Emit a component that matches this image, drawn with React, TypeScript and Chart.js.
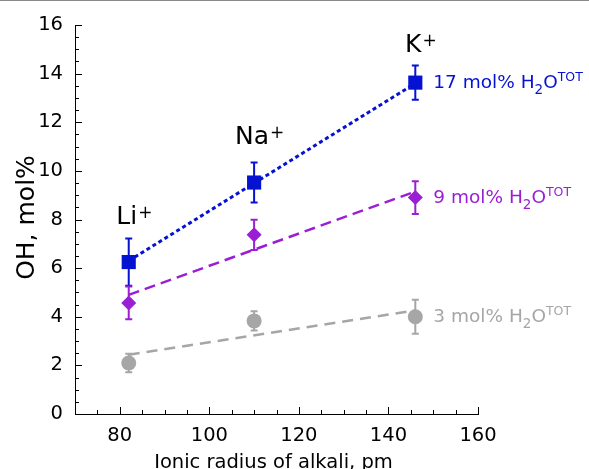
import React, { useEffect, useRef } from "react";
import { Chart, registerables } from "chart.js";

Chart.register(...registerables);

// ---- data ----
const radii = [82, 110, 146];
const ionNames = ["Li", "Na", "K"];
const ionLabelY = [7.82, 11.09, 14.89];

const oh17 = [6.25, 9.52, 13.63];
const err17 = [0.97, 0.82, 0.7];
const oh9 = [4.57, 7.37, 8.9];
const err9 = [0.67, 0.62, 0.67];
const oh3 = [2.1, 3.83, 4.0];
const err3 = [0.38, 0.4, 0.7];

const fitX = [82, 146];
const fit17 = [6.3, 13.6];
const fit9 = [4.9, 9.15];
const fit3 = [2.44, 4.26];

const seriesAmounts = ["17", "9", "3"];

const xTicks = [80, 100, 120, 140, 160];
const yTicks = [0, 2, 4, 6, 8, 10, 12, 14, 16];
const xMinorStep = 5;
const yMinorStep = 0.5;

const BLUE = "#0512d2";
const PURPLE = "#9a1fd4";
const GRAY = "#a6a6a6";
const FONT = "'DejaVu Sans', 'Liberation Sans', sans-serif";

const pts = (xs: number[], ys: number[]) => xs.map((x, i) => ({ x, y: ys[i] }));

const errorBarPlugin = {
  id: "errorBars",
  beforeDatasetsDraw(chart: any) {
    const ctx = chart.ctx;
    const ys = chart.scales.y;
    chart.data.datasets.forEach((ds: any, i: number) => {
      if (!ds.errors) return;
      const meta = chart.getDatasetMeta(i);
      ctx.save();
      ctx.strokeStyle = ds.backgroundColor;
      ctx.lineWidth = 2;
      meta.data.forEach((el: any, j: number) => {
        const v = ds.data[j].y;
        const e = ds.errors[j];
        const top = ys.getPixelForValue(v + e);
        const bot = ys.getPixelForValue(v - e);
        const x = el.x;
        ctx.beginPath();
        ctx.moveTo(x, top);
        ctx.lineTo(x, bot);
        ctx.moveTo(x - 3.5, top);
        ctx.lineTo(x + 3.5, top);
        ctx.moveTo(x - 3.5, bot);
        ctx.lineTo(x + 3.5, bot);
        ctx.stroke();
      });
      ctx.restore();
    });
  },
};

const decorPlugin = {
  id: "decor",
  afterDraw(chart: any) {
    const ctx = chart.ctx;
    const xs = chart.scales.x;
    const ys = chart.scales.y;
    const area = chart.chartArea;
    ctx.save();

    // top frame line
    ctx.fillStyle = "#8a8a8a";
    ctx.fillRect(0, 0, chart.width, 1);

    // inward ticks
    ctx.strokeStyle = "#000";
    ctx.lineWidth = 1;
    ctx.beginPath();
    for (let v = ys.min; v <= ys.max + 1e-9; v += yMinorStep) {
      const major = yTicks.some((t) => Math.abs(t - v) < 1e-6);
      const py = Math.round(ys.getPixelForValue(v)) + 0.5;
      const len = major ? 7 : 4;
      ctx.moveTo(area.left, py);
      ctx.lineTo(area.left + len, py);
    }
    for (let v = xs.min + xMinorStep; v <= xs.max + 1e-9; v += xMinorStep) {
      const major = xTicks.some((t) => Math.abs(t - v) < 1e-6);
      const px = Math.round(xs.getPixelForValue(v)) + 0.5;
      const len = major ? 7 : 4;
      ctx.moveTo(px, area.bottom);
      ctx.lineTo(px, area.bottom - len);
    }
    ctx.stroke();

    // axis titles
    ctx.fillStyle = "#000";
    ctx.font = `19.5px ${FONT}`;
    ctx.textAlign = "center";
    ctx.textBaseline = "alphabetic";
    ctx.fillText("Ionic radius of alkali, pm", (area.left + area.right) / 2 - 3, 468);

    ctx.save();
    ctx.translate(34, (area.top + area.bottom) / 2 - 2);
    ctx.rotate(-Math.PI / 2);
    ctx.font = `25px ${FONT}`;
    ctx.fillText("OH, mol%", 0, 0);
    ctx.restore();

    // ion labels
    ionNames.forEach((name, i) => {
      const cx = xs.getPixelForValue(radii[i]) - 2;
      const by = ys.getPixelForValue(ionLabelY[i]);
      ctx.font = `25px ${FONT}`;
      ctx.textAlign = "center";
      ctx.fillStyle = "#000";
      ctx.fillText(name, cx, by);
      const w = ctx.measureText(name).width;
      ctx.font = `17px ${FONT}`;
      ctx.textAlign = "left";
      ctx.fillText("+", cx + w / 2 + 1, by - 6);
    });

    // series labels
    const series = [
      { amount: seriesAmounts[0], y: oh17[2], color: BLUE },
      { amount: seriesAmounts[1], y: oh9[2], color: PURPLE },
      { amount: seriesAmounts[2], y: oh3[2], color: GRAY },
    ];
    series.forEach((s) => {
      let x = xs.getPixelForValue(radii[2]) + 18;
      const by = ys.getPixelForValue(s.y) + 5;
      ctx.fillStyle = s.color;
      ctx.textAlign = "left";
      ctx.textBaseline = "alphabetic";
      const parts: [string, number, number][] = [
        [`${s.amount} mol% H`, 18.5, 0],
        ["2", 13.5, 6],
        ["O", 18.5, 0],
        ["TOT", 12.5, -7],
      ];
      parts.forEach(([t, size, dy]) => {
        ctx.font = `${size}px ${FONT}`;
        ctx.fillText(t, x, by + dy);
        x += ctx.measureText(t).width;
      });
    });

    ctx.restore();
  },
};

export default function App() {
  const ref = useRef<HTMLCanvasElement | null>(null);

  useEffect(() => {
    if (!ref.current) return;
    const chart = new Chart(ref.current, {
      type: "scatter",
      data: {
        datasets: [
          {
            label: "17 mol%",
            data: pts(radii, oh17),
            errors: err17,
            pointStyle: "rect",
            pointRadius: 10,
            backgroundColor: BLUE,
            borderWidth: 0,
            order: 0,
          } as any,
          {
            label: "9 mol%",
            data: pts(radii, oh9),
            errors: err9,
            pointStyle: "rectRot",
            pointRadius: 7.5,
            backgroundColor: PURPLE,
            borderWidth: 0,
            order: 0,
          } as any,
          {
            label: "3 mol%",
            data: pts(radii, oh3),
            errors: err3,
            pointStyle: "circle",
            pointRadius: 7.5,
            backgroundColor: GRAY,
            borderWidth: 0,
            order: 0,
          } as any,
          {
            label: "fit 17",
            data: pts(fitX, fit17),
            showLine: true,
            borderColor: BLUE,
            borderWidth: 3,
            borderDash: [4, 3],
            pointRadius: 0,
            order: 1,
          },
          {
            label: "fit 9",
            data: pts(fitX, fit9),
            showLine: true,
            borderColor: PURPLE,
            borderWidth: 2.5,
            borderDash: [11, 6],
            pointRadius: 0,
            order: 1,
          },
          {
            label: "fit 3",
            data: pts(fitX, fit3),
            showLine: true,
            borderColor: GRAY,
            borderWidth: 2.5,
            borderDash: [11, 7],
            pointRadius: 0,
            order: 1,
          },
        ],
      },
      options: {
        animation: false,
        responsive: false,
        events: [],
        layout: { padding: { top: 25, right: 111, left: 0, bottom: 0 } },
        plugins: {
          legend: { display: false },
          tooltip: { enabled: false },
        },
        scales: {
          x: {
            type: "linear",
            min: 70,
            max: 160,
            afterBuildTicks: (s: any) => {
              s.ticks = xTicks.map((v) => ({ value: v }));
            },
            afterFit: (s: any) => {
              s.height = 55;
            },
            grid: { display: true, drawOnChartArea: false, drawTicks: false, color: "rgba(0,0,0,0)" },
            border: { display: true, color: "#000", width: 1 },
            ticks: {
              color: "#000",
              padding: 10,
              maxRotation: 0,
              font: { family: FONT, size: 19.5 },
            },
          },
          y: {
            type: "linear",
            min: 0,
            max: 16,
            afterBuildTicks: (s: any) => {
              s.ticks = yTicks.map((v) => ({ value: v }));
            },
            afterFit: (s: any) => {
              s.width = 75;
            },
            grid: { display: true, drawOnChartArea: false, drawTicks: false, color: "rgba(0,0,0,0)" },
            border: { display: true, color: "#000", width: 1 },
            ticks: {
              color: "#000",
              padding: 12,
              font: { family: FONT, size: 19.5 },
            },
          },
        },
      },
      plugins: [errorBarPlugin, decorPlugin],
    } as any);
    return () => chart.destroy();
  }, []);

  return (
    <div style={{ position: "absolute", left: 0, top: 0, width: 589, height: 469, background: "#fff" }}>
      <canvas ref={ref} width={589} height={469} style={{ display: "block" }} />
    </div>
  );
}
